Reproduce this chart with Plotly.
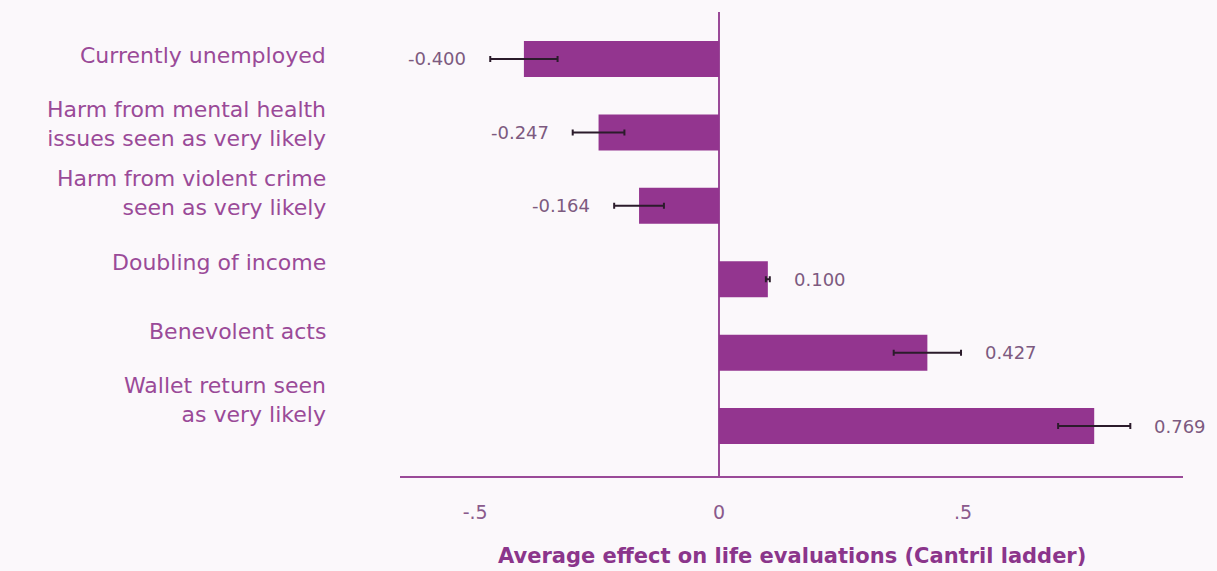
import plotly.graph_objects as go

categories = [
    "Currently unemployed",
    "Harm from mental health<br>issues seen as very likely",
    "Harm from violent crime<br>seen as very likely",
    "Doubling of income",
    "Benevolent acts",
    "Wallet return seen<br>as very likely",
]
values = [-0.400, -0.247, -0.164, 0.100, 0.427, 0.769]
errors = [0.069, 0.053, 0.051, 0.004, 0.069, 0.074]
value_labels = ["-0.400", "-0.247", "-0.164", "0.100", "0.427", "0.769"]
tick_vals = [-0.5, 0, 0.5]
tick_text = ["-.5", "0", ".5"]

BG = "#fbf8fb"
BAR = "#93358f"
PURPLE = "#9a4a98"
FONT = "'DejaVu Sans', sans-serif"

idx = list(range(len(categories)))

fig = go.Figure()
fig.add_trace(go.Bar(
    x=values, y=idx, orientation="h",
    marker=dict(color=BAR, line=dict(width=0)),
    width=0.49,
    error_x=dict(type="data", array=errors, color="#2b1b2b", thickness=2, width=3),
    hoverinfo="skip",
))

annotations = []
for i, (v, e, t) in enumerate(zip(values, errors, value_labels)):
    end = v - e if v < 0 else v + e
    annotations.append(dict(
        x=end, y=i, xref="x", yref="y", text=t, showarrow=False,
        xanchor="right" if v < 0 else "left",
        xshift=-22 if v < 0 else 22,
        font=dict(family=FONT, size=18, color="#7d5a80"),
    ))
for i, c in enumerate(categories):
    annotations.append(dict(
        x=-0.0925, y=i * 0.94 - 0.05, xref="paper", yref="y", text=c,
        showarrow=False, xanchor="right", yanchor="middle", align="right",
        font=dict(family=FONT, size=22, color=PURPLE),
    ))
annotations.append(dict(
    x=0.5, y=-0.172, xref="paper", yref="paper",
    text="<b>Average effect on life evaluations (Cantril ladder)</b>",
    showarrow=False, xanchor="center", yanchor="middle",
    font=dict(family=FONT, size=21, color="#8b358b"),
))

fig.update_layout(
    width=1217, height=571,
    paper_bgcolor=BG, plot_bgcolor=BG,
    margin=dict(l=400, r=34, t=12, b=95),
    showlegend=False,
    annotations=annotations,
    xaxis=dict(
        range=[-0.654, 0.951], tickvals=tick_vals, ticktext=tick_text,
        showgrid=False, zeroline=True, zerolinecolor=PURPLE, zerolinewidth=2,
        showline=True, linecolor=PURPLE, linewidth=2, ticks="", ticklen=0,
        tickfont=dict(family=FONT, size=19, color="#8a5a8c"),
        ticklabelstandoff=18,
    ),
    yaxis=dict(
        range=[5.68, -0.64], showticklabels=False, showgrid=False,
        zeroline=False, showline=False, ticks="",
    ),
)

fig.write_html(
    "out.html",
    config={"displayModeBar": False},
    post_script="document.body.style.margin='0';document.body.style.background='%s';" % BG,
)
